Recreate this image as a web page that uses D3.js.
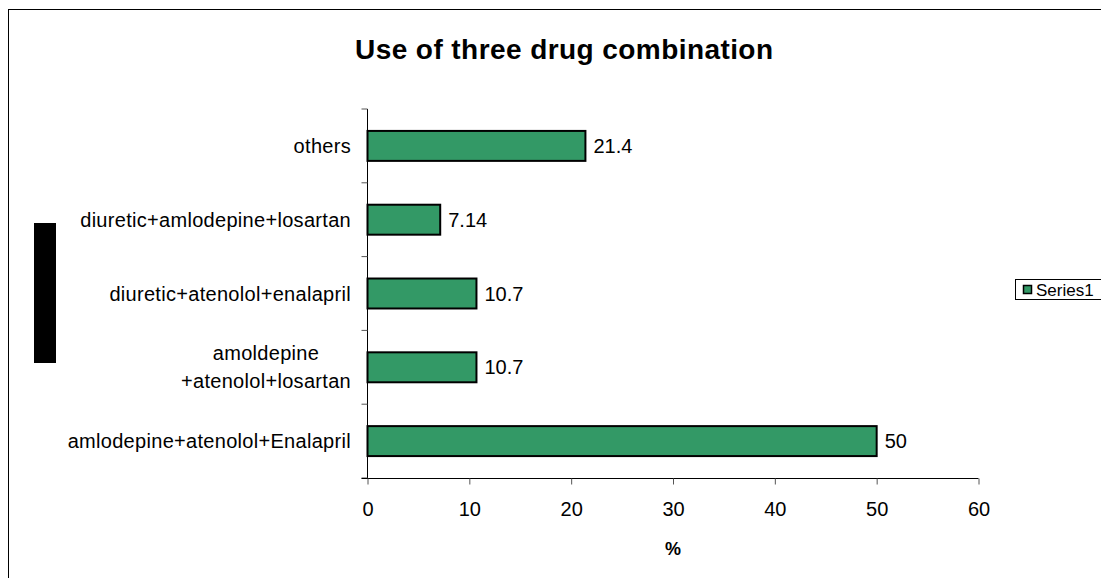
<!DOCTYPE html>
<html><head><meta charset="utf-8">
<script src="https://cdn.jsdelivr.net/npm/d3@7"></script>
<style>
html,body{margin:0;padding:0;background:#fff;}
svg{display:block;font-family:"Liberation Sans",Arial,sans-serif;}
</style></head>
<body>
<svg id="chart" width="1101" height="578"></svg>
<script>
// Data (bottom to top as in the picture)
const categories = [
  "amlodepine+atenolol+Enalapril",
  "amoldepine\n+atenolol+losartan",
  "diuretic+atenolol+enalapril",
  "diuretic+amlodepine+losartan",
  "others"
];
const values = [50, 10.7, 10.7, 7.14, 21.4];
const valueLabels = ["50", "10.7", "10.7", "7.14", "21.4"];
const xTicks = [0, 10, 20, 30, 40, 50, 60];
const seriesName = "Series1";
const titleText = "Use of three drug combination";
const xTitle = "%";

const svg = d3.select("#chart");

// outer border
svg.append("rect").attr("x", 8.5).attr("y", 9.5).attr("width", 1110).attr("height", 600)
  .attr("fill", "none").attr("stroke", "#000").attr("stroke-width", 1);

// black bar at left
svg.append("rect").attr("x", 34).attr("y", 223).attr("width", 22).attr("height", 140).attr("fill", "#000");

const x = d3.scaleLinear().domain([0, 60]).range([367.5, 978.5]);
const y = d3.scaleBand().domain(categories.slice().reverse()).range([109, 478]).paddingInner(0.594).paddingOuter(0.297);

// title
svg.append("text").attr("x", 564).attr("y", 59).attr("text-anchor", "middle")
  .attr("font-size", 28).attr("font-weight", "bold")
  .attr("textLength", 418).attr("lengthAdjust", "spacing").text(titleText);

// bars
const data = categories.map((c, i) => ({c, v: values[i], l: valueLabels[i]}));
svg.selectAll("rect.bar").data(data).enter().append("rect").attr("class", "bar")
  .attr("x", x(0)).attr("y", d => y(d.c)).attr("width", d => x(d.v) - x(0)).attr("height", y.bandwidth())
  .attr("fill", "#339966").attr("stroke", "#000").attr("stroke-width", 2);

// value labels
svg.selectAll("text.val").data(data).enter().append("text").attr("class", "val")
  .attr("x", d => x(d.v) + 8).attr("y", d => y(d.c) + y.bandwidth() / 2).attr("dy", "0.35em")
  .attr("font-size", 20).text(d => d.l);

// y axis
const yAxisG = svg.append("g");
const yTickPositions = [];
for (let i = 0; i <= categories.length; i++) yTickPositions.push(109 + i * (369 / categories.length));
yAxisG.append("line").attr("x1", x(0)).attr("x2", x(0)).attr("y1", 109).attr("y2", 478).attr("stroke", "#000");
yAxisG.selectAll("line.t").data(yTickPositions).enter().append("line").attr("class", "t")
  .attr("x1", x(0) - 6).attr("x2", x(0)).attr("y1", d => d).attr("y2", d => d).attr("stroke", "#555");

// category labels
categories.forEach(c => {
  const lines = c.split("\n");
  const cy = y(c) + y.bandwidth() / 2;
  const t = svg.append("text").attr("font-size", 20).attr("letter-spacing", 0.3).attr("text-anchor", "middle");
  const lh = 28;
  lines.forEach((ln, i) => {
    t.append("tspan").attr("y", cy + (i - (lines.length - 1) / 2) * lh).attr("dy", "0.35em").text(ln);
  });
  let maxW = 0;
  t.selectAll("tspan").each(function(){ maxW = Math.max(maxW, this.getComputedTextLength()); });
  t.selectAll("tspan").attr("x", 351 - maxW / 2);
});

// x axis
const xAxis = d3.axisBottom(x).tickValues(xTicks).tickSize(6).tickSizeOuter(0).tickPadding(17);
const xg = svg.append("g").attr("transform", "translate(0,478.5)").call(xAxis);
xg.select(".domain").attr("stroke", "#000").attr("d", `M${x(0) - 6},0H${x(60)}`);
xg.selectAll(".tick line").attr("stroke", "#555");
xg.selectAll(".tick text").attr("font-size", 20).attr("font-family", "Liberation Sans, Arial, sans-serif").attr("fill", "#000");

svg.append("text").attr("x", x(30)).attr("y", 555).attr("text-anchor", "middle")
  .attr("font-size", 18).attr("font-weight", "bold").text(xTitle);

// legend
const lg = svg.append("g");
lg.append("rect").attr("x", 1015.5).attr("y", 279.5).attr("width", 100).attr("height", 20)
  .attr("fill", "#fff").attr("stroke", "#000").attr("stroke-width", 1);
lg.append("rect").attr("x", 1023.5).attr("y", 285.5).attr("width", 8).attr("height", 8)
  .attr("fill", "#339966").attr("stroke", "#000").attr("stroke-width", 1.5);
lg.append("text").attr("x", 1036).attr("y", 295.5).attr("font-size", 17).text(seriesName);
</script>
</body></html>
